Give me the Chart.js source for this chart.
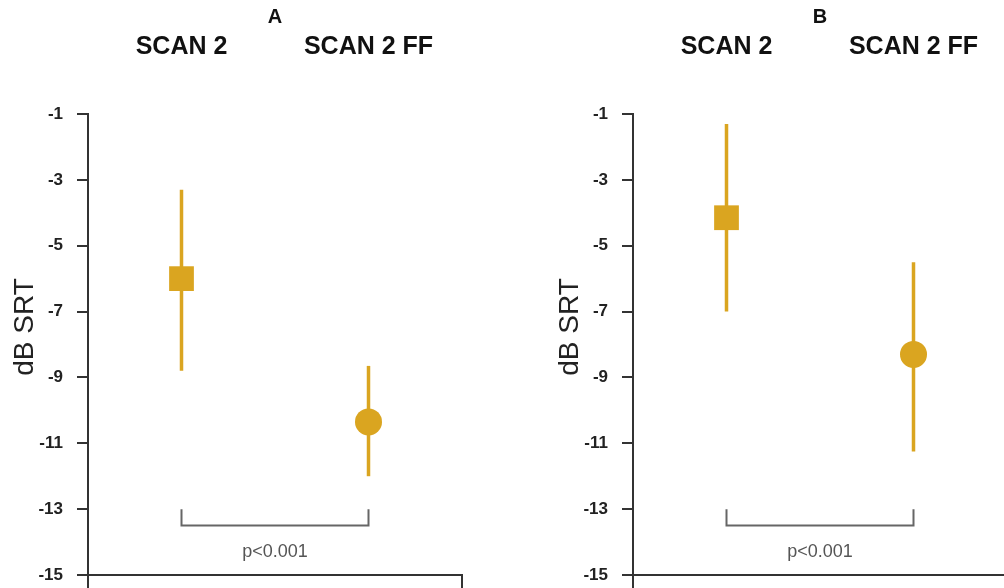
<!DOCTYPE html>
<html>
<head>
<meta charset="utf-8">
<script src="https://cdn.jsdelivr.net/npm/chart.js@4/dist/chart.umd.min.js"></script>
<style>
  html, body { margin: 0; padding: 0; background: #fff; }
  #wrap { position: relative; width: 1004px; height: 588px; overflow: hidden; background: #fff; }
  canvas { position: absolute; top: 0; }
  #chartA { left: 0px; }
  #chartB { left: 545px; }
</style>
</head>
<body>
<div id="wrap">
  <canvas id="chartA" width="464" height="588"></canvas>
  <canvas id="chartB" width="464" height="588"></canvas>
</div>
<script>
// conditions (top labels) and y ticks
var groups = ["SCAN 2", "SCAN 2 FF"];
var yTicks = [-15, -13, -11, -9, -7, -5, -3, -1];
var pText = "p<0.001";

// panel A: mean and interval ends per condition
var meanA = [-6.0, -10.35];
var lowA  = [-8.8, -12.0];
var highA = [-3.3, -8.65];

// panel B
var meanB = [-4.15, -8.3];
var lowB  = [-7.0, -11.25];
var highB = [-1.3, -5.5];

var gold = "#DAA520";
var axisCol = "#333";
var font = "'Liberation Sans', Arial, sans-serif";

Chart.defaults.font.family = font;

// no extra room for overhanging tick labels
function noPad(s)
{
	s.paddingLeft = 0;
	s.paddingRight = 0;
	s.paddingTop = 0;
	s.paddingBottom = 0;
}

// letter, p value and y title drawn on top of the chart
var panelText = {
	id: "panelText",
	afterDraw: function(chart, args, opts)
	{
		var ctx = chart.ctx;
		var ca = chart.chartArea;
		var xs = chart.scales.x;
		var ys = chart.scales.y;
		ctx.save();
		ctx.fillStyle = "#111";
		ctx.font = "bold 20px " + font;
		ctx.textAlign = "center";
		ctx.textBaseline = "middle";
		ctx.fillText(opts.letter, (ca.left + ca.right) / 2, 17);

		ctx.fillStyle = "#555";
		ctx.font = "18px " + font;
		ctx.fillText(pText, xs.getPixelForValue(1.5), ys.getPixelForValue(-14.3));

		ctx.translate(25, 327);
		ctx.rotate(-Math.PI / 2);
		ctx.fillStyle = "#222";
		ctx.font = "28px " + font;
		ctx.fillText("dB SRT", 0, 0);
		ctx.restore();
	}
};

function drawPanel(id, letter, mean, low, high)
{
	var errorSets = groups.map(function(g, i)
	{
		return {
			type: "line",
			showLine: true,
			order: 2,
			data: [{x: i + 1, y: low[i]}, {x: i + 1, y: high[i]}],
			borderColor: gold,
			borderWidth: 3.5,
			pointRadius: 0
		};
	});

	var bracket = {
		type: "line",
		showLine: true,
		order: 3,
		data: [{x: 1, y: -13}, {x: 1, y: -13.5}, {x: 2, y: -13.5}, {x: 2, y: -13}],
		borderColor: "#666",
		borderWidth: 2,
		pointRadius: 0
	};

	var markers = {
		order: 0,
		data: mean.map(function(v, i) { return {x: i + 1, y: v}; }),
		pointStyle: ["rect", "circle"],
		pointRadius: [17.5, 13.5],
		backgroundColor: gold,
		borderColor: gold,
		borderWidth: 0
	};

	return new Chart(id,
	{
		type: "scatter",
		data: { datasets: [markers].concat(errorSets, [bracket]) },
		options:
		{
			responsive: false,
			animation: false,
			events: [],
			layout: { autoPadding: false, padding: { left: 0, right: 2, top: 0, bottom: 0 } },
			plugins:
			{
				legend: { display: false },
				tooltip: { enabled: false },
				panelText: { letter: letter }
			},
			scales:
			{
				x:
				{
					type: "linear",
					position: "bottom",
					min: 0.5,
					max: 2.5,
					afterBuildTicks: function(s) { s.ticks = [{value: 0.5}, {value: 2.5}]; },
					afterFit: function(s) { s.height = 13; noPad(s); },
					ticks: { display: false },
					grid: { drawOnChartArea: false, drawTicks: true, tickLength: 14, color: axisCol, lineWidth: 2 },
					border: { color: axisCol, width: 2 }
				},
				x2:
				{
					type: "linear",
					position: "top",
					min: 0.5,
					max: 2.5,
					afterBuildTicks: function(s) { s.ticks = [{value: 1}, {value: 2}]; },
					afterFit: function(s) { s.height = 114; noPad(s); },
					ticks:
					{
						padding: 52,
						color: "#111",
						font: { size: 25, weight: "bold" },
						callback: function(v) { return groups[v - 1]; }
					},
					grid: { display: false, drawTicks: false },
					border: { display: false }
				},
				y:
				{
					type: "linear",
					min: -15,
					max: -1,
					afterBuildTicks: function(s) { s.ticks = yTicks.map(function(v) { return {value: v}; }); },
					afterFit: function(s) { s.width = 88; noPad(s); },
					ticks: { padding: 14, color: "#222", font: { size: 17, weight: "bold" } },
					grid: { drawOnChartArea: false, tickLength: 11, color: axisCol, lineWidth: 2 },
					border: { color: axisCol, width: 2 }
				}
			}
		},
		plugins: [panelText]
	});
}

drawPanel("chartA", "A", meanA, lowA, highA);
drawPanel("chartB", "B", meanB, lowB, highB);
</script>
</body>
</html>
